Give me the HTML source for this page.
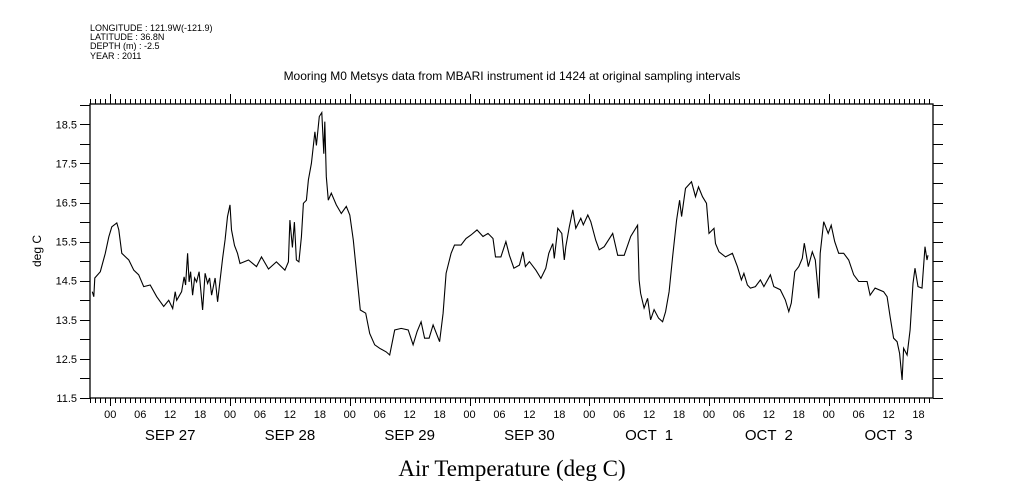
<!DOCTYPE html>
<html><head><meta charset="utf-8"><style>
body{margin:0;background:#fff;width:1009px;height:504px;overflow:hidden}
svg{display:block;font-family:"Liberation Sans",sans-serif}
</style></head><body>
<svg id="chart" width="1009" height="504" viewBox="0 0 1009 504">
<g font-size="9" fill="#000">
<text x="90" y="31">LONGITUDE : 121.9W(-121.9)</text>
<text x="90" y="40">LATITUDE : 36.8N</text>
<text x="90" y="49">DEPTH (m) : -2.5</text>
<text x="90" y="59">YEAR : 2011</text>
</g>
<text x="512" y="80" font-size="12" text-anchor="middle">Mooring M0 Metsys data from MBARI instrument id 1424 at original sampling intervals</text>
<text x="512" y="476" font-size="23" text-anchor="middle" font-family="Liberation Serif, serif">Air Temperature (deg C)</text>
<text transform="translate(41,251) rotate(-90)" font-size="12" text-anchor="middle">deg C</text>
<g id="axes"></g>
<g id="series"></g>
</svg>
<script>
const hours=[-3.6,-3.3,-3.1,-2,-1,-0.3,0.3,1.3,1.7,2.3,3.7,4.7,5.7,6.7,8,9.3,10.7,11.7,12.5,13,13.3,14.3,14.8,15.1,15.5,15.8,16.1,16.5,16.9,17.3,17.8,18.5,19,19.5,19.9,20.3,21,21.5,22,22.5,23,23.5,24,24.3,24.9,25.5,26,27.7,29.3,30.3,31.7,33.3,35,35.7,36,36.5,36.9,37.3,37.8,38.3,38.7,39.3,39.7,40.3,41,41.3,41.9,42.4,42.8,43,43.3,43.7,44.3,45.3,46.3,47.3,48,48.7,49.3,50.1,51.2,52,53,54,55.3,56,57,58.3,59.7,60.7,61.5,62.3,63,63.9,64.7,66,66.7,67.3,68.3,69,70.3,71.3,72.3,73.5,74.7,75.7,76.7,77.2,78.3,79.3,80,80.9,82,82.7,83.2,84,85.3,86.3,87.3,87.9,88.7,89,89.7,90.5,91,91.3,92,92.7,93.3,94.3,94.8,95.7,96.3,97.3,98,99,100.7,101.7,103,104.3,105.7,106,106.3,107,107.7,108.3,109,109.9,110.7,111.3,112,112.7,113.5,114.1,114.5,115.3,116.5,117.3,117.9,118.7,119.5,120,121,121.3,122,123.3,124.7,125.7,126.5,127,127.7,128.3,129.3,130.3,131,132.3,133,134.3,135.3,136,136.5,137.2,138,138.7,139.1,139.9,140.7,141.3,142,142.3,143,143.9,144.5,145.2,146,147,148,149,150,151.7,152.3,153.3,155,155.7,156.3,157,157.7,158.2,158.7,159,159.7,160.3,160.9,161.3,161.9,162.7,163.3,163.7,163.9];
const temps=[14.22,14.09,14.57,14.73,15.2,15.62,15.88,15.98,15.8,15.2,15.03,14.77,14.65,14.35,14.39,14.09,13.84,14.0,13.79,14.22,14.0,14.22,14.6,14.39,15.2,14.47,14.73,14.13,14.57,14.47,14.73,13.75,14.69,14.43,14.57,14.13,14.57,13.96,14.52,15.07,15.55,16.14,16.44,15.8,15.4,15.2,14.94,15.03,14.86,15.11,14.8,14.98,14.77,14.98,16.05,15.35,16.0,15.03,14.98,15.62,16.48,16.56,17.08,17.5,18.31,17.96,18.7,18.8,17.75,18.57,17.16,16.56,16.74,16.44,16.22,16.4,16.18,15.54,14.77,13.75,13.67,13.15,12.86,12.77,12.68,12.6,13.24,13.28,13.24,12.86,13.2,13.45,13.03,13.03,13.37,12.94,13.67,14.69,15.2,15.41,15.41,15.58,15.67,15.8,15.63,15.71,15.58,15.11,15.11,15.5,15.15,14.82,14.9,15.24,14.86,14.99,14.77,14.56,14.82,15.2,15.45,15.07,15.84,15.71,15.03,15.37,15.88,16.31,15.84,16.1,15.93,16.18,16.01,15.54,15.29,15.37,15.71,15.15,15.15,15.63,15.92,14.52,14.18,13.8,14.05,13.5,13.76,13.54,13.45,13.71,14.22,15.11,16.05,16.56,16.14,16.86,17.03,16.65,16.9,16.65,16.48,15.71,15.84,15.45,15.24,15.11,15.2,14.86,14.52,14.69,14.39,14.31,14.35,14.52,14.35,14.65,14.35,14.27,14.01,13.71,13.93,14.73,14.86,15.07,15.46,14.86,15.24,15.03,14.05,15.2,16.01,15.71,15.92,15.5,15.2,15.2,15.03,14.65,14.48,14.48,14.13,14.31,14.22,14.09,13.58,13.03,12.94,12.64,11.96,12.77,12.6,13.24,14.43,14.82,14.35,14.31,15.37,15.03,15.15];
const yTickLabels=["11.5","12.5","13.5","14.5","15.5","16.5","17.5","18.5"];
const dayLabels=["SEP 27","SEP 28","SEP 29","SEP 30","OCT  1","OCT  2","OCT  3"];
const hourLabels=["00","06","12","18"];

const L=90,R=933,T=104,B=398,H0=-4.07,H1=164.9,V0=11.5,V1=19.02;
const xS=h=>L+(h-H0)/(H1-H0)*(R-L);
const yS=v=>B-(v-V0)/(V1-V0)*(B-T);
const NS="http://www.w3.org/2000/svg";
const axes=document.getElementById('axes'),series=document.getElementById('series');
function mk(tag,attrs,parent){const e=document.createElementNS(NS,tag);for(const k in attrs)e.setAttribute(k,attrs[k]);parent.appendChild(e);return e;}
const frame=mk('rect',{x:L,y:T,width:R-L,height:B-T,fill:'none',stroke:'#000','stroke-width':1.3},axes);


let tp='';
for(let h=Math.ceil(H0);h<=H1;h++){
  const x=Math.round(xS(h))+0.5;const major=((h%24)+24)%24===0;
  tp+=`M${x} ${B}v${major?8:5}M${x} ${T}v${major?-10:-5}`;
}
for(let v=11.5;v<=V1;v+=0.5){const y=Math.round(yS(v))+0.5;tp+=`M${L} ${y}h-10M${R} ${y}h10`;}
const ticks=mk('path',{d:tp,stroke:'#000','stroke-width':1,fill:'none'},axes);


yTickLabels.forEach(s=>{
  const t=mk('text',{x:77,y:yS(parseFloat(s))+4,'font-size':11,'text-anchor':'end'},axes);
  t.textContent=s;
  
  
});
dayLabels.forEach((s,d)=>{
  hourLabels.forEach((hl,i)=>{
    const t=mk('text',{x:xS(d*24+i*6),y:418,'font-size':11,'text-anchor':'middle'},axes);
    t.textContent=hl;
    
    
  });
  const t=mk('text',{x:xS(d*24+12),y:440,'font-size':15,'text-anchor':'middle','xml:space':'preserve'},axes);
  t.textContent=s;t.style.whiteSpace='pre';
  
  
});
const pts=hours.map((h,i)=>xS(h).toFixed(1)+','+yS(temps[i]).toFixed(1)).join(' ');
const line=mk('polyline',{points:pts,fill:'none',stroke:'#000','stroke-width':1.1},series);


</script>
</body></html>
